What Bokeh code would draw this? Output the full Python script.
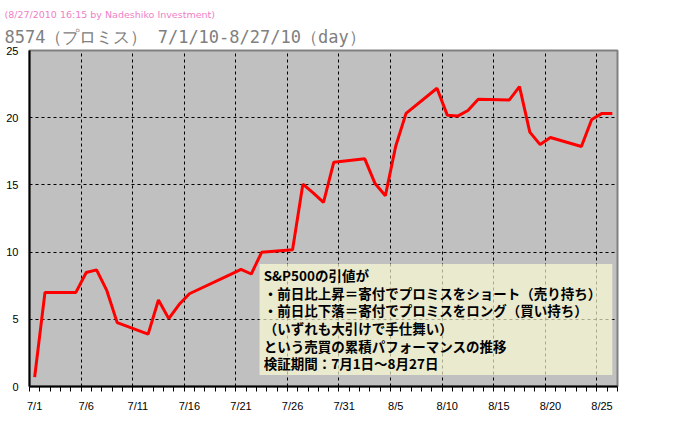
from datetime import date
from bokeh.plotting import figure
from bokeh.models import (Range1d, FixedTicker, BoxAnnotation, Label, Title, ColumnDataSource)
from bokeh.embed import file_html
from bokeh.resources import INLINE

# ---- data ----
dates = ["7/1", "7/2", "7/5", "7/6", "7/7", "7/8", "7/9", "7/12", "7/13", "7/14",
         "7/15", "7/16", "7/20", "7/21", "7/22", "7/23", "7/26", "7/27", "7/28", "7/29",
         "7/30", "8/2", "8/3", "8/4", "8/5", "8/6", "8/9", "8/10", "8/11", "8/12",
         "8/13", "8/16", "8/17", "8/18", "8/19", "8/20", "8/23", "8/24", "8/25", "8/26"]
values = [0.7, 7.0, 7.0, 8.48, 8.68, 7.13, 4.75, 3.9, 6.44, 5.05,
          6.1, 6.9, 8.34, 8.72, 8.37, 9.98, 10.17, 15.05, 14.4, 13.7,
          16.69, 16.94, 15.1, 14.2, 17.88, 20.32, 22.19, 20.19, 20.12, 20.54,
          21.37, 21.31, 22.31, 18.93, 18.0, 18.53, 17.86, 19.87, 20.32, 20.32]
x_tick_labels = ["7/1", "7/6", "7/11", "7/16", "7/21", "7/26", "7/31",
                 "8/5", "8/10", "8/15", "8/20", "8/25"]
y_ticks = [0, 5, 10, 15, 20, 25]
title_text = "8574（プロミス） 7/1/10-8/27/10（day）"
subtitle_text = "(8/27/2010 16:15 by Nadeshiko Investment)"
note_lines = [
    "S&P500の引値が",
    "・前日比上昇＝寄付でプロミスをショート（売り持ち）",
    "・前日比下落＝寄付でプロミスをロング（買い持ち）",
    "（いずれも大引けで手仕舞い）",
    "という売買の累積パフォーマンスの推移",
    "検証期間：7月1日～8月27日",
]

START = date(2010, 7, 1)
N_SLOTS = 57


def slot(s):
    m, d = s.split("/")
    return (date(2010, int(m), int(d)) - START).days


xs = [slot(s) + 0.5 for s in dates]
src = ColumnDataSource(dict(x=xs, y=values))

p = figure(frame_width=588, frame_height=336,
           min_border_left=29, min_border_right=73,
           min_border_top=50, min_border_bottom=36,
           x_range=Range1d(0, N_SLOTS), y_range=Range1d(0, 25),
           output_backend="svg", toolbar_location=None,
           background_fill_color="#C0C0C0", border_fill_color="#FFFFFF",
           outline_line_color="#808080", outline_line_width=2)

# titles (first one is the farthest from the frame)
p.title.text = subtitle_text
p.title.text_font = "DejaVu Sans"
p.title.text_font_size = "9.5px"
p.title.text_font_style = "normal"
p.title.text_color = "#F080C8"
p.title.offset = -25
p.title.standoff = 2
p.add_layout(Title(text=title_text, text_font="DejaVu Sans Mono",
                   text_font_size="17px", text_font_style="normal",
                   text_color="#808080", offset=-25, standoff=8), "above")

# grid
p.xgrid.ticker = FixedTicker(ticks=[slot(s) for s in x_tick_labels])
p.ygrid.ticker = FixedTicker(ticks=y_ticks)
for g in (p.xgrid, p.ygrid):
    g.grid_line_color = "black"
    g.grid_line_dash = "3 3"
    g.grid_line_width = 1

# x axis
xa = p.xaxis[0]
xa.ticker = FixedTicker(ticks=[slot(s) + 0.5 for s in x_tick_labels],
                        minor_ticks=list(range(0, N_SLOTS + 1)))
xa.major_label_overrides = {slot(s) + 0.5: s for s in x_tick_labels}
xa.major_tick_out = 0
xa.major_tick_in = 0
xa.minor_tick_out = 5
xa.minor_tick_in = 0
xa.minor_tick_line_color = "black"
xa.axis_line_color = "black"
xa.axis_line_width = 2
xa.major_label_standoff = 8
xa.major_label_text_font = "Liberation Sans"
xa.major_label_text_font_size = "11px"
xa.major_label_text_color = "black"

# y axis
ya = p.yaxis[0]
ya.ticker = FixedTicker(ticks=y_ticks)
ya.major_tick_out = 0
ya.major_tick_in = 0
ya.minor_tick_out = 0
ya.minor_tick_in = 0
ya.axis_line_color = "black"
ya.axis_line_width = 2
ya.major_label_standoff = 11
ya.major_label_text_font = "Liberation Sans"
ya.major_label_text_font_size = "11px"
ya.major_label_text_color = "black"

# line
p.line("x", "y", source=src, line_color="#FF0000", line_width=3)

# note box
p.add_layout(BoxAnnotation(left=22.3, right=56.5, top=9.11, bottom=0.855,
                           fill_color="#FFFFD4", fill_alpha=0.66,
                           line_color=None, level="annotation"))
note_y0 = 8.29
note_dy = 1.315
for i, t in enumerate(note_lines):
    p.add_layout(Label(x=22.7, y=note_y0 - i * note_dy, text=t,
                       text_font="Noto Sans CJK JP", text_font_style="bold",
                       text_font_size="13.5px", text_color="black",
                       text_baseline="middle", text_align="left"))

open("out.html", "w").write(file_html(p, INLINE))
